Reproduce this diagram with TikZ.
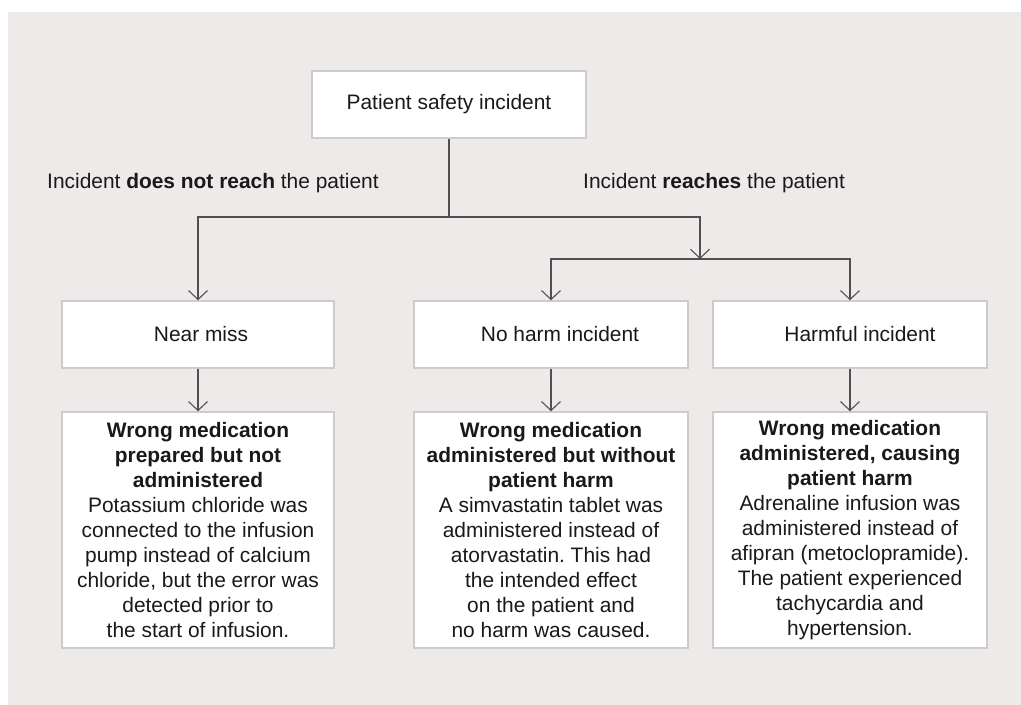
\documentclass[tikz,border=0pt]{standalone}
\usepackage{fontspec}
\setmainfont{Liberation Sans}
\frenchspacing
\usetikzlibrary{arrows.meta}
\definecolor{bgc}{RGB}{237,234,233}
\definecolor{boxline}{RGB}{204,204,204}
\definecolor{conn}{RGB}{80,80,80}
\definecolor{txt}{RGB}{25,25,25}
\tikzset{
  box/.style={draw=boxline, line width=1.4bp, fill=white, inner sep=0pt,
    text=txt, align=center, font=\fontsize{21}{25}\selectfont},
  toprow/.style={box, minimum width=274bp, minimum height=67bp},
  detail/.style={box, minimum width=274bp, minimum height=236bp},
  conline/.style={draw=conn, line width=1.1bp},
  arr/.style={conline, -{Straight Barb[length=9bp,width=19bp,line width=1.1bp]}},
  lbl/.style={text=txt, font=\fontsize{21}{25}\selectfont, inner sep=0pt}
}
\begin{document}
\begin{tikzpicture}[x=1bp,y=-1bp]
\useasboundingbox (0,0) rectangle (1021,705);
\fill[bgc] (8,12) rectangle (1021,705);

\node[toprow] (main) at (449,104.5) {Patient safety incident};

\node[lbl, anchor=west] (lno) at (47,183) {Incident \textbf{does not reach} the patient};
\node[lbl, anchor=west] (lyes) at (583,183) {Incident \textbf{reaches} the patient};

\node[toprow, minimum width=272bp] (near) at (198,334.5) {\hspace*{6bp}Near miss};
\node[toprow] (noharm) at (551,334.5) {\hspace*{18bp}No harm incident};
\node[toprow] (harm) at (850,334.5) {\hspace*{20bp}Harmful incident};

\node[detail, minimum width=272bp] (d1) at (198,530) {\textbf{Wrong medication}\\\textbf{prepared but not}\\\textbf{administered}\\Potassium chloride was\\connected to the infusion\\pump instead of calcium\\chloride, but the error was\\detected prior to\\the start of infusion.};
\node[detail] (d2) at (551,530) {\textbf{Wrong medication}\\\textbf{administered but without}\\\textbf{patient harm}\\A simvastatin tablet was\\administered instead of\\atorvastatin. This had\\the intended effect\\on the patient and\\no harm was caused.};
\node[detail] (d3) at (850,530) {\textbf{Wrong medication}\\\textbf{administered, causing}\\\textbf{patient harm}\\Adrenaline infusion was\\administered instead of\\afipran (metoclopramide).\\The patient experienced\\tachycardia and\\hypertension.};

\coordinate (j) at (449,217);
\coordinate (r) at (700,259);
\draw[conline] (main.south) -- (j);
\draw[arr] (j) -| (near.north);
\draw[arr] (j) -| (r);
\draw[arr] (r) -| (noharm.north);
\draw[arr] (r) -| (harm.north);
\draw[arr] (near.south) -- (d1.north);
\draw[arr] (noharm.south) -- (d2.north);
\draw[arr] (harm.south) -- (d3.north);
\end{tikzpicture}
\end{document}
